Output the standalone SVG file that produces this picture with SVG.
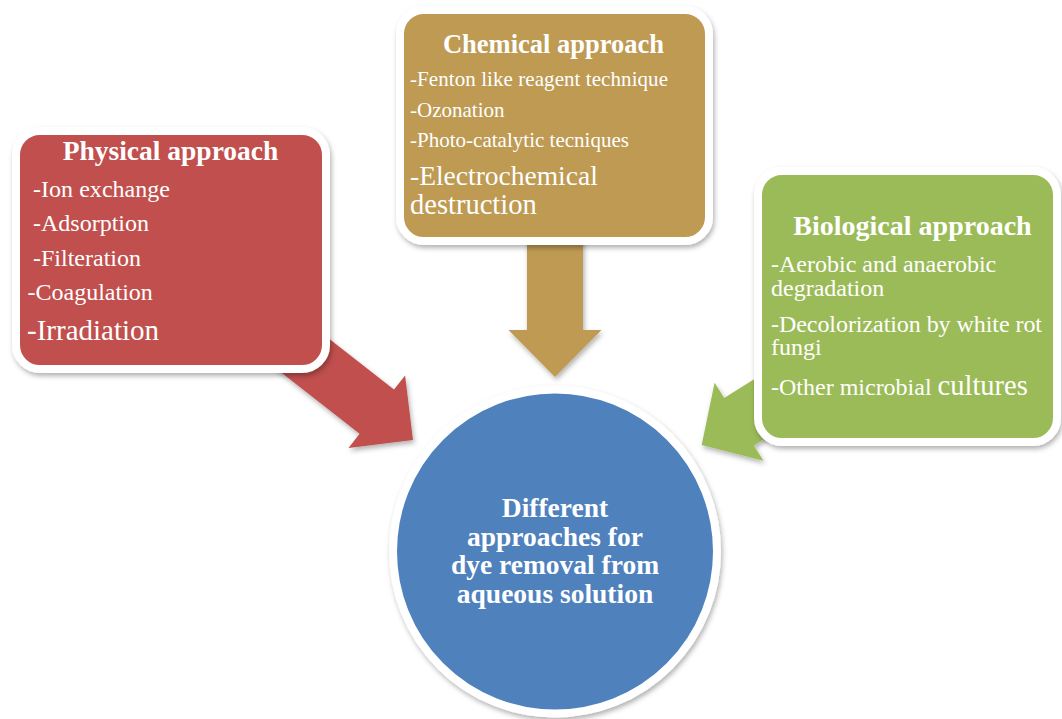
<svg xmlns="http://www.w3.org/2000/svg" width="1062" height="719" viewBox="0 0 1062 719">
<defs>
<filter id="sh" x="-10%" y="-10%" width="125%" height="125%">
<feDropShadow dx="1.5" dy="3" stdDeviation="2.5" flood-color="#000" flood-opacity="0.3"/>
</filter>
</defs>
<style>
.box{stroke:#fff;stroke-width:8;filter:url(#sh)}
.t{font-family:"Liberation Serif","Times New Roman",serif;fill:#fff}
.title{font-weight:bold;text-anchor:middle}
</style>
<rect width="1062" height="719" fill="#fff"/>
<g id="connectors" filter="url(#sh)">
<polygon fill="#C0504D" points="307.3,321.7 394,389.6 405.1,375.5 413,440 348.5,447.9 359.6,433.8 272.9,366"/>
<polygon fill="#BE9A52" points="527,230 583,230 583,330 601.5,330 555,377 508.5,330 527,330"/>
<polygon fill="#9BBB59" points="792,355.6 724.2,398 714.6,382.7 701.7,445 763.4,460.7 753.8,445.4 821.6,403"/>
</g>
<g id="physical">
<rect class="box" x="16" y="131" width="310" height="238" rx="24" fill="#C0504D"/>
<text class="t title" x="170.5" y="160" font-size="27.5">Physical approach</text>
<text class="t" x="33" y="197" font-size="24" textLength="137" lengthAdjust="spacing">-Ion exchange</text>
<text class="t" x="33" y="231" font-size="24">-Adsorption</text>
<text class="t" x="33" y="265.5" font-size="24">-Filteration</text>
<text class="t" x="27.5" y="300" font-size="24">-Coagulation</text>
<text class="t" x="27" y="340" font-size="29">-Irradiation</text>
</g>
<g id="chemical">
<rect class="box" x="400" y="10" width="309" height="231" rx="24" fill="#BE9A52"/>
<text class="t title" x="553.5" y="52.5" font-size="26.5">Chemical approach</text>
<text class="t" x="410" y="86" font-size="21" textLength="258" lengthAdjust="spacing">-Fenton like reagent technique</text>
<text class="t" x="410" y="116.5" font-size="21">-Ozonation</text>
<text class="t" x="410" y="146.5" font-size="21" textLength="219" lengthAdjust="spacing">-Photo-catalytic tecniques</text>
<text class="t" x="410" y="185" font-size="27.5">-Electrochemical</text>
<text class="t" x="410" y="213.5" font-size="28.5">destruction</text>
</g>
<g id="biological">
<rect class="box" x="758" y="171" width="299" height="271" rx="24" fill="#9BBB59"/>
<text class="t title" x="912.5" y="235" font-size="28">Biological approach</text>
<text class="t" x="771" y="271.5" font-size="24">-Aerobic and anaerobic</text>
<text class="t" x="771" y="296" font-size="24">degradation</text>
<text class="t" x="771" y="331.5" font-size="24" textLength="271" lengthAdjust="spacing">-Decolorization by white rot</text>
<text class="t" x="771" y="355" font-size="24">fungi</text>
<text class="t" x="771" y="395" font-size="24">-Other microbial <tspan font-size="28.5">cultures</tspan></text>
</g>
<g id="center">
<circle class="box" cx="555" cy="551.5" r="162" fill="#4F81BD"/>
<text class="t title" font-size="27.5"><tspan x="555" y="517">Different</tspan><tspan x="555" y="546">approaches for</tspan><tspan x="555" y="574">dye removal from</tspan><tspan x="555" y="603">aqueous solution</tspan></text>
</g>
</svg>
